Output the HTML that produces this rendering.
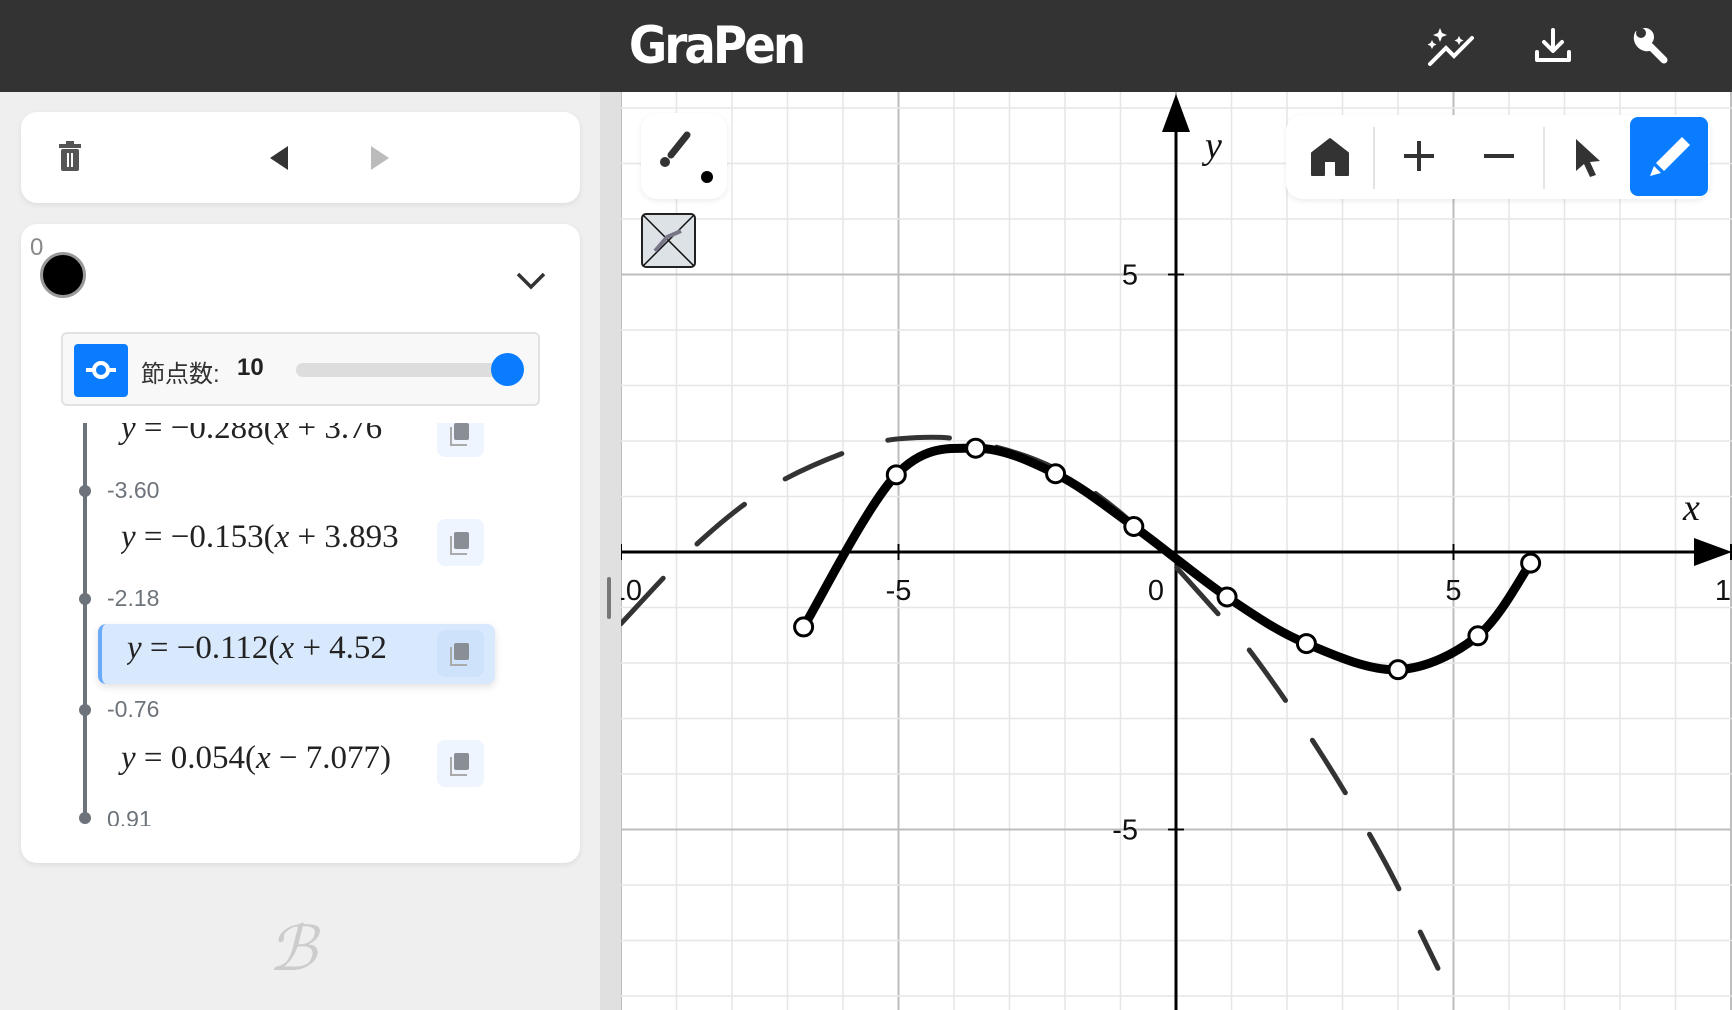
<!DOCTYPE html>
<html><head><meta charset="utf-8">
<style>
*{box-sizing:border-box;margin:0;padding:0}
body{width:1732px;height:1010px;overflow:hidden;background:#efefef;font-family:"Liberation Sans","Noto Sans CJK JP",sans-serif;position:relative}
.abs{position:absolute}
#header{left:0;top:0;width:1732px;height:92px;background:#333}
#logo{left:0;width:1432px;top:16px;text-align:center;color:#fff;font:bold 52px "DejaVu Sans Condensed","DejaVu Sans",sans-serif;letter-spacing:-3px}
.card{background:#fff;border-radius:16px;box-shadow:0 2px 6px rgba(0,0,0,.08)}
.eq{position:absolute;font:italic 33px "Liberation Serif",serif;color:#222;white-space:nowrap}
.eq span{font-style:normal}
.copy{position:absolute;width:47px;height:47px;background:#eef5ff;border-radius:8px}
.copy:before{content:"";position:absolute;left:17px;top:13px;width:15px;height:17px;background:#8a8f96;border-radius:2px}
.copy:after{content:"";position:absolute;left:13px;top:17px;width:15px;height:17px;border-left:2px solid #aaa;border-bottom:2px solid #aaa}
.nlab{position:absolute;font:23px "Liberation Sans",sans-serif;color:#6c737a}
.ndot{position:absolute;left:79px;width:12px;height:12px;border-radius:50%;background:#6c737a}
</style></head><body>
<div id="header" class="abs">
  <div id="logo" class="abs">GraPen</div>
  <svg class="abs" style="left:1424px;top:22px" width="60" height="50" viewBox="0 0 60 50"><path d="M6 42 L22 26 L30 34 L48 16" stroke="#fff" stroke-width="4" fill="none" stroke-linecap="round"/><path d="M16 6 l2 5 5 2 -5 2 -2 5 -2 -5 -5 -2 5 -2z M8 18 l1.5 3 3 1.5 -3 1.5 -1.5 3 -1.5 -3 -3 -1.5 3 -1.5z M35 14 l1.5 3 3 1.5 -3 1.5 -1.5 3 -1.5 -3 -3 -1.5 3 -1.5z" fill="#fff"/></svg>
  <svg class="abs" style="left:1533px;top:26px" width="40" height="40" viewBox="0 0 40 40"><path d="M20 4 V24 M11 16 L20 25 L29 16 M4 26 V34 H36 V26" stroke="#fff" stroke-width="4" fill="none" stroke-linecap="round" stroke-linejoin="round"/></svg>
  <svg class="abs" style="left:1630px;top:24px" width="42" height="42" viewBox="0 0 42 42"><path d="M8 10 a10 10 0 0 0 13 13 L34 36" stroke="#fff" stroke-width="7" fill="none" stroke-linecap="round"/><circle cx="15" cy="13" r="9" fill="#fff"/><circle cx="11" cy="9" r="5" fill="#333"/></svg>
</div>

<div class="abs" style="left:600px;top:92px;width:21px;height:918px;background:#e0e0e0"></div>
<div class="abs" style="left:607px;top:577px;width:4px;height:42px;background:#777;border-radius:2px"></div>

<div class="abs card" style="left:21px;top:112px;width:559px;height:91px">
  <svg class="abs" style="left:36px;top:29px" width="26" height="32" viewBox="0 0 26 32"><rect x="2" y="3" width="22" height="4" fill="#555"/><rect x="9" y="0" width="8" height="4" fill="#555"/><rect x="4" y="8" width="18" height="22" rx="2" fill="#555"/><rect x="10" y="12" width="2" height="14" fill="#fff"/><rect x="14" y="12" width="2" height="14" fill="#fff"/></svg>
  <svg class="abs" style="left:247px;top:32px" width="22" height="28"><path d="M20 2 L2 14 L20 26Z" fill="#333"/></svg>
  <svg class="abs" style="left:348px;top:32px" width="22" height="28"><path d="M2 2 L20 14 L2 26Z" fill="#bbb"/></svg>
</div>

<div class="abs card" style="left:21px;top:224px;width:559px;height:639px">
  <div class="abs" style="left:9px;top:10px;font-size:24px;color:#888">0</div>
  <div class="abs" style="left:19px;top:28px;width:46px;height:46px;border-radius:50%;background:#000;border:3px solid #999"></div>
  <svg class="abs" style="left:494px;top:46px" width="32" height="22"><path d="M3 4 L16 17 L29 4" stroke="#333" stroke-width="3.5" fill="none"/></svg>
  <div class="abs" style="left:40px;top:108px;width:479px;height:74px;background:#f8f8f8;border:2px solid #e2e2e2;border-radius:6px">
    <div class="abs" style="left:11px;top:10px;width:54px;height:53px;background:#0a7cff;border-radius:4px">
      <svg width="54" height="53"><path d="M12 26 H42" stroke="#fff" stroke-width="4"/><circle cx="27" cy="26" r="7" fill="#0a7cff" stroke="#fff" stroke-width="4"/></svg>
    </div>
    <div class="abs" style="left:78px;top:20px;font-size:24px;color:#333">節点数:</div>
    <div class="abs" style="left:174px;top:20px;font-size:24px;font-weight:bold;color:#222">10</div>
    <div class="abs" style="left:233px;top:29px;width:210px;height:14px;background:#ddd;border-radius:7px"></div>
    <div class="abs" style="left:428px;top:19px;width:33px;height:33px;background:#0a7cff;border-radius:50%"></div>
  </div>
  <div class="abs" style="left:0;top:199px;width:559px;height:403px;overflow:hidden">
    <div class="abs" style="left:62px;top:0;width:4px;height:400px;background:#6c737a"></div>
    <div class="eq" style="left:100px;top:-13px">y <span>= −0.288(</span>x<span> + 3.76</span></div>
    <div class="copy" style="left:416px;top:-13px"></div>
    <div class="ndot" style="left:58px;top:62px"></div>
    <div class="nlab" style="left:86px;top:54px">-3.60</div>
    <div class="eq" style="left:100px;top:96px;width:314px;overflow:hidden">y <span>= −0.153(</span>x<span> + 3.893</span></div>
    <div class="copy" style="left:416px;top:96px"></div>
    <div class="ndot" style="left:58px;top:170px"></div>
    <div class="nlab" style="left:86px;top:162px">-2.18</div>
    <div class="abs" style="left:77px;top:201px;width:397px;height:60px;background:#d9e9fd;border-left:4px solid #6aaaf8;border-radius:8px;box-shadow:0 3px 8px rgba(0,0,0,.12)"></div>
    <div class="eq" style="left:106px;top:207px;width:310px;overflow:hidden">y <span>= −0.112(</span>x<span> + 4.52</span></div>
    <div class="copy" style="left:416px;top:207px;background:#cfe2fb"></div>
    <div class="ndot" style="left:58px;top:281px"></div>
    <div class="nlab" style="left:86px;top:273px">-0.76</div>
    <div class="eq" style="left:100px;top:317px">y <span>= 0.054(</span>x<span> − 7.077)</span></div>
    <div class="copy" style="left:416px;top:317px"></div>
    <div class="ndot" style="left:58px;top:389px"></div>
    <div class="nlab" style="left:86px;top:383px">0.91</div>
  </div>
</div>
<div class="abs" style="left:268px;top:912px;font:italic 62px 'Liberation Serif',serif;color:#ccc">ℬ</div>

<svg id="graph" class="abs" style="left:621px;top:92px" width="1111" height="918"></svg>

<div class="abs card" style="left:641px;top:113px;width:86px;height:86px">
  <svg width="86" height="86"><path d="M46 22 L30 42" stroke="#333" stroke-width="7" stroke-linecap="round"/><circle cx="24" cy="49" r="5" fill="#333"/><circle cx="66" cy="64" r="6" fill="#000"/></svg>
</div>
<div class="abs" style="left:641px;top:213px;width:55px;height:55px;background:#dde2e6;border:2px solid #222;border-radius:5px">
  <svg width="51" height="51"><path d="M0 0 L51 51 M51 0 L0 51" stroke="#111" stroke-width="1.5"/><path d="M12 36 L24 22 L38 16" stroke="#778" stroke-width="4" fill="none"/></svg>
</div>
<div class="abs card" style="left:1286px;top:115px;width:424px;height:84px">
  <svg class="abs" style="left:24px;top:22px" width="40" height="40"><path d="M2 16 L20 2 L38 16 V38 H26 V24 H14 V38 H2Z" fill="#333" stroke="#333" stroke-linejoin="round" stroke-width="2"/></svg>
  <div class="abs" style="left:87px;top:12px;width:2px;height:62px;background:#e4e4e4"></div>
  <svg class="abs" style="left:116px;top:24px" width="34" height="34"><path d="M17 2 V32 M2 17 H32" stroke="#333" stroke-width="4"/></svg>
  <svg class="abs" style="left:196px;top:24px" width="34" height="34"><path d="M2 17 H32" stroke="#333" stroke-width="4"/></svg>
  <div class="abs" style="left:257px;top:12px;width:2px;height:62px;background:#e4e4e4"></div>
  <svg class="abs" style="left:286px;top:22px" width="34" height="44"><path d="M4 2 L4 34 L12 27 L18 40 L24 38 L18 25 L28 24Z" fill="#333"/></svg>
  <div class="abs" style="left:344px;top:2px;width:78px;height:79px;background:#0a7cff;border-radius:8px">
    <svg width="78" height="79"><path d="M52 20 L60 28 L34 54 L26 46Z" fill="#fff"/><path d="M24 49 L31 56 L20 59Z" fill="#fff"/></svg>
  </div>
</div>

<script>
const xTicks=[-10,-5,0,5,10];
const yTicks=[-5,5];
const nodeX=[-6.71,-5.04,-3.61,-2.17,-0.76,0.92,2.35,4.00,5.44,6.39];
const nodeY=[-1.35,1.39,1.87,1.41,0.46,-0.81,-1.65,-2.12,-1.51,-0.20];
const dashX=[-10,-8.57,-7.27,-5.72,-4.68,-3.61,-2.17,-0.76,0.70,1.45,2.65,3.75,4.72];
const dashY=[-1.29,0.20,1.19,1.88,2.06,1.98,1.50,0.50,-1.05,-1.94,-3.69,-5.56,-7.50];

const NS="http://www.w3.org/2000/svg";
const svg=document.getElementById('graph');
const OX=555,OY=460,U=55.5,W=1111,H=918;
const sx=v=>OX+v*U, sy=v=>OY-v*U;
function mk(t,a){const e=document.createElementNS(NS,t);for(const k in a)e.setAttribute(k,a[k]);svg.appendChild(e);return e;}
mk('rect',{x:0,y:0,width:W,height:H,fill:'#fff'});
for(let i=-10;i<=10;i++){
  const g=mk('line',{x1:sx(i),x2:sx(i),y1:0,y2:H,stroke:i%5===0?'#bdbdbd':'#e6e6e6','stroke-width':i%5===0?2:1.5});
  
  
}
for(let j=-9;j<=9;j++){
  const g=mk('line',{x1:0,x2:W,y1:sy(j),y2:sy(j),stroke:j%5===0?'#bdbdbd':'#e6e6e6','stroke-width':j%5===0?2:1.5});
  
  
}
const xa=mk('line',{x1:0,x2:W-20,y1:OY,y2:OY,stroke:'#000','stroke-width':3});


const ya=mk('line',{x1:OX,x2:OX,y1:25,y2:H,stroke:'#000','stroke-width':3});


const xh=mk('path',{d:`M${W} ${OY} L${W-38} ${OY-14} L${W-38} ${OY+14}Z`,fill:'#000'});


const yh=mk('path',{d:`M${OX} 2 L${OX-14} 40 L${OX+14} 40Z`,fill:'#000'});


xTicks.forEach(v=>{
  if(v!==0){const t=mk('line',{x1:sx(v),x2:sx(v),y1:OY-8,y2:OY+8,stroke:'#000','stroke-width':2});
  
  }
  const l=mk('text',{x:v===0?sx(v)-20:sx(v),y:OY+48,'text-anchor':'middle','font-size':29,'font-family':'Liberation Sans, sans-serif',fill:'#111'});
  l.textContent=String(v);
  
  
});
yTicks.forEach(v=>{
  const t=mk('line',{x1:OX-8,x2:OX+8,y1:sy(v),y2:sy(v),stroke:'#000','stroke-width':2});
  
  
  const l=mk('text',{x:OX-38,y:sy(v)+10,'text-anchor':'end','font-size':29,'font-family':'Liberation Sans, sans-serif',fill:'#111'});
  l.textContent=String(v);
  
  
});
const xl=mk('text',{x:1062,y:428,'font-size':38,'font-style':'italic','font-family':'Liberation Serif, serif',fill:'#111'});xl.textContent='x';


const yl=mk('text',{x:584,y:66,'font-size':38,'font-style':'italic','font-family':'Liberation Serif, serif',fill:'#111'});yl.textContent='y';



function spline(xs,ys){
  const p=xs.map((x,i)=>[sx(x),sy(ys[i])]);
  let d=`M${p[0][0]} ${p[0][1]}`;
  for(let i=0;i<p.length-1;i++){
    const p0=p[Math.max(0,i-1)],p1=p[i],p2=p[i+1],p3=p[Math.min(p.length-1,i+2)];
    d+=` C${p1[0]+(p2[0]-p0[0])/6} ${p1[1]+(p2[1]-p0[1])/6} ${p2[0]-(p3[0]-p1[0])/6} ${p2[1]-(p3[1]-p1[1])/6} ${p2[0]} ${p2[1]}`;
  }
  return d;
}
const dash=mk('path',{d:spline(dashX,dashY),stroke:'#333','stroke-width':5,fill:'none','stroke-dasharray':'62 48','stroke-linecap':'round'});


const curve=mk('path',{d:spline(nodeX,nodeY),stroke:'#000','stroke-width':9,fill:'none','stroke-linecap':'round'});


nodeX.forEach((x,i)=>{
  const c=mk('circle',{cx:sx(x),cy:sy(nodeY[i]),r:9,fill:'#fff',stroke:'#000','stroke-width':3});
  
  
});
</script>
</body></html>
